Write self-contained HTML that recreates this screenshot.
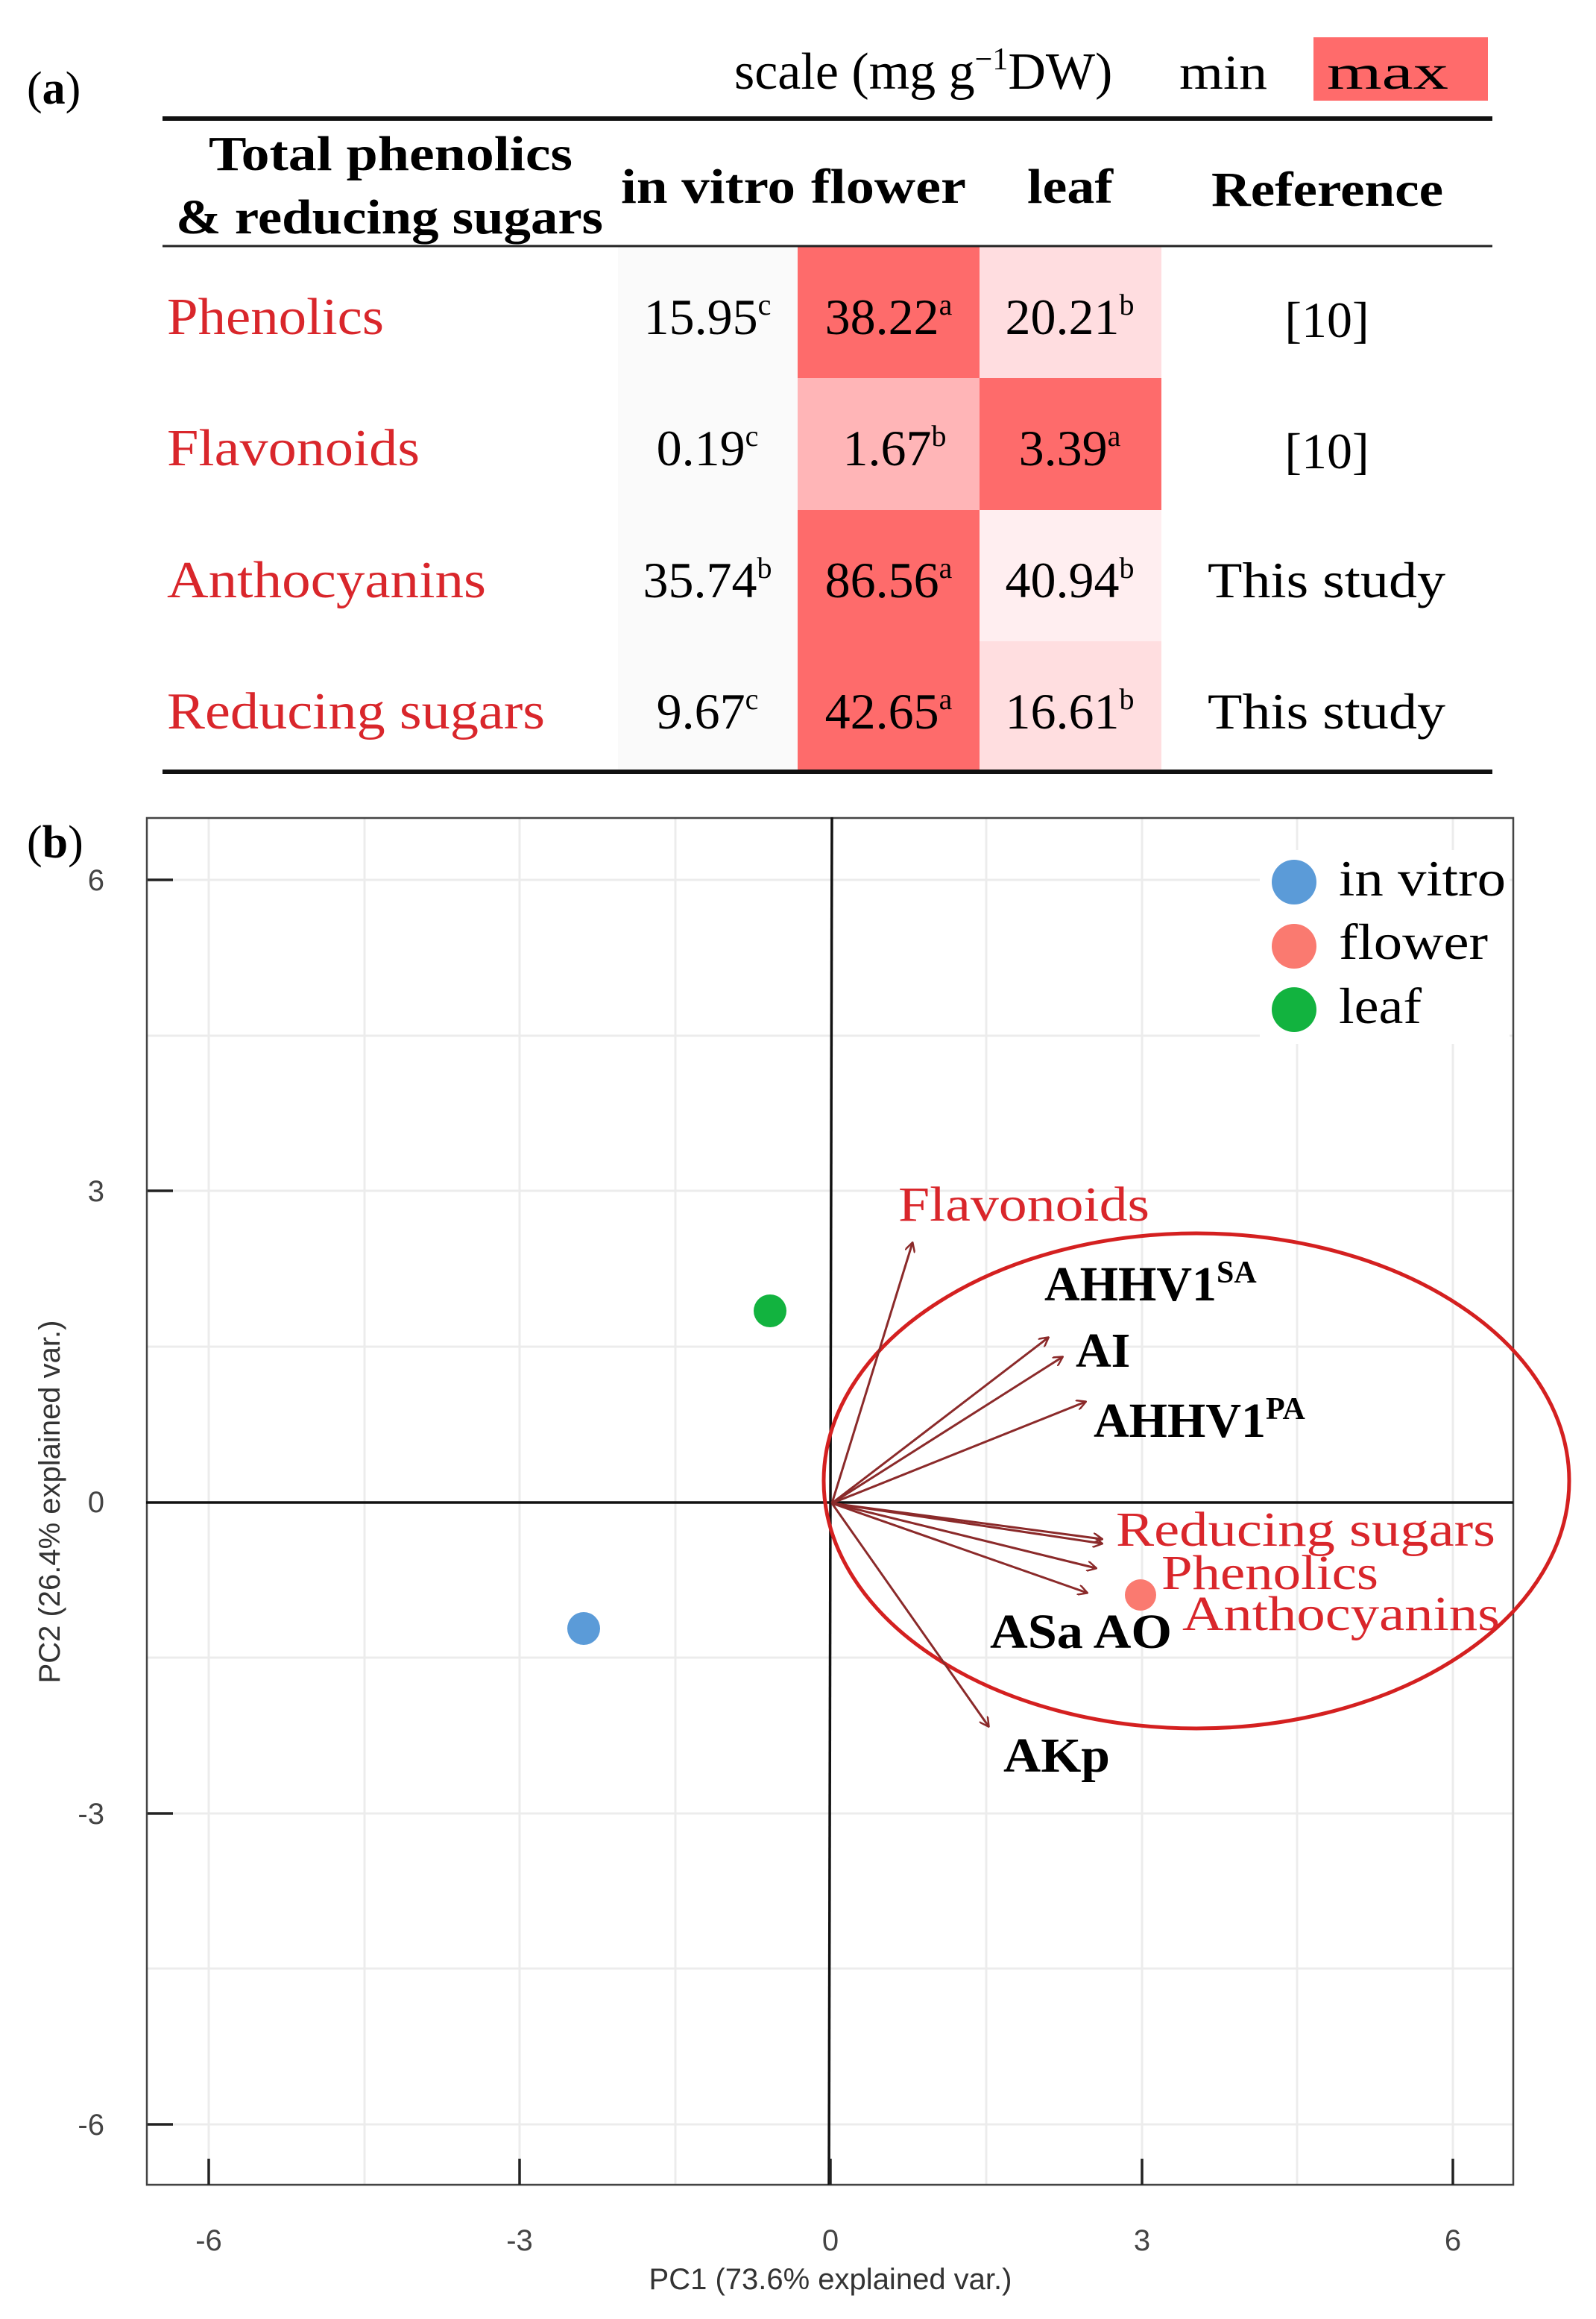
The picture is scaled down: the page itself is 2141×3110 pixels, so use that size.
<!DOCTYPE html>
<html><head><meta charset="utf-8"><style>html,body{margin:0;padding:0;background:#fff}svg{display:block}</style></head>
<body>
<svg width="2141" height="3110" viewBox="0 0 2141 3110" xmlns="http://www.w3.org/2000/svg" font-family="'Liberation Serif', serif">
<!-- (a) table -->
<text x="36" y="139" font-size="62">(<tspan font-weight="bold">a</tspan>)</text>
<text x="985" y="119" font-size="70">scale (mg g<tspan font-size="42" dy="-26">−1</tspan><tspan dy="26">DW)</tspan></text>
<text x="1582" y="119" font-size="66" textLength="118" lengthAdjust="spacingAndGlyphs">min</text>
<rect x="1762" y="50" width="234" height="85" fill="#ff6b6b"/>
<text x="1780" y="119" font-size="66" textLength="163" lengthAdjust="spacingAndGlyphs">max</text>
<!-- cells -->
<rect x="829" y="331" width="241" height="702" fill="#fafafa"/>
<rect x="1070" y="331" width="244" height="176" fill="#fe6b6b"/>
<rect x="1314" y="331" width="244" height="176" fill="#ffdde0"/>
<rect x="1070" y="507" width="244" height="177" fill="#ffb5b7"/>
<rect x="1314" y="507" width="244" height="177" fill="#fe6b6b"/>
<rect x="1070" y="684" width="244" height="176" fill="#fe6b6b"/>
<rect x="1314" y="684" width="244" height="176" fill="#ffeef0"/>
<rect x="1070" y="860" width="244" height="175" fill="#fe6b6b"/>
<rect x="1314" y="860" width="244" height="175" fill="#ffdee0"/>
<line x1="218" y1="159" x2="2002" y2="159" stroke="#111" stroke-width="6"/>
<line x1="218" y1="330" x2="2002" y2="330" stroke="#222" stroke-width="3"/>
<line x1="218" y1="1035" x2="2002" y2="1035" stroke="#111" stroke-width="6"/>
<g font-weight="bold" font-size="66" lengthAdjust="spacingAndGlyphs">
<text x="280" y="228" textLength="488" lengthAdjust="spacingAndGlyphs">Total phenolics</text>
<text x="236" y="313" textLength="573" lengthAdjust="spacingAndGlyphs">&amp; reducing sugars</text>
<text x="833" y="272" textLength="234" lengthAdjust="spacingAndGlyphs">in vitro</text>
<text x="1088" y="272" textLength="208" lengthAdjust="spacingAndGlyphs">flower</text>
<text x="1378" y="272" textLength="115" lengthAdjust="spacingAndGlyphs">leaf</text>
<text x="1625" y="276" textLength="311" lengthAdjust="spacingAndGlyphs">Reference</text>
</g>
<g font-size="70" fill="#d9262b">
<text x="224" y="448" textLength="291" lengthAdjust="spacingAndGlyphs">Phenolics</text>
<text x="224" y="624" textLength="339" lengthAdjust="spacingAndGlyphs">Flavonoids</text>
<text x="224" y="801" textLength="428" lengthAdjust="spacingAndGlyphs">Anthocyanins</text>
<text x="224" y="977" textLength="507" lengthAdjust="spacingAndGlyphs">Reducing sugars</text>
</g>
<g font-size="68" text-anchor="middle">
<text x="949" y="448">15.95<tspan font-size="40" dy="-26">c</tspan></text>
<text x="1192" y="448">38.22<tspan font-size="40" dy="-26">a</tspan></text>
<text x="1435" y="448">20.21<tspan font-size="40" dy="-26">b</tspan></text>
<text x="1780" y="452">[10]</text>
<text x="949" y="624">0.19<tspan font-size="40" dy="-26">c</tspan></text>
<text x="1200" y="624">1.67<tspan font-size="40" dy="-26">b</tspan></text>
<text x="1435" y="624">3.39<tspan font-size="40" dy="-26">a</tspan></text>
<text x="1780" y="628">[10]</text>
<text x="949" y="801">35.74<tspan font-size="40" dy="-26">b</tspan></text>
<text x="1192" y="801">86.56<tspan font-size="40" dy="-26">a</tspan></text>
<text x="1435" y="801">40.94<tspan font-size="40" dy="-26">b</tspan></text>
<text x="1780" y="977" text-anchor="start" dx="0"></text>
</g>
<g font-size="68">
<text x="1620" y="801" textLength="319" lengthAdjust="spacingAndGlyphs">This study</text>
<text x="1620" y="977" textLength="319" lengthAdjust="spacingAndGlyphs">This study</text>
</g>
<g font-size="68" text-anchor="middle">
<text x="949" y="977">9.67<tspan font-size="40" dy="-26">c</tspan></text>
<text x="1192" y="977">42.65<tspan font-size="40" dy="-26">a</tspan></text>
<text x="1435" y="977">16.61<tspan font-size="40" dy="-26">b</tspan></text>
</g>
<!-- (b) plot -->
<text x="36" y="1150" font-size="62">(<tspan font-weight="bold">b</tspan>)</text>
<g stroke="#ececec" stroke-width="3">
<line x1="280" y1="1096" x2="280" y2="2930"/><line x1="489" y1="1096" x2="489" y2="2930"/>
<line x1="697" y1="1096" x2="697" y2="2930"/><line x1="906" y1="1096" x2="906" y2="2930"/>
<line x1="1323" y1="1096" x2="1323" y2="2930"/><line x1="1532" y1="1096" x2="1532" y2="2930"/>
<line x1="1740" y1="1096" x2="1740" y2="2930"/><line x1="1949" y1="1096" x2="1949" y2="2930"/>
<line x1="196" y1="1180" x2="2030" y2="1180"/><line x1="196" y1="1389" x2="2030" y2="1389"/>
<line x1="196" y1="1597" x2="2030" y2="1597"/><line x1="196" y1="1806" x2="2030" y2="1806"/>
<line x1="196" y1="2223" x2="2030" y2="2223"/><line x1="196" y1="2432" x2="2030" y2="2432"/>
<line x1="196" y1="2640" x2="2030" y2="2640"/><line x1="196" y1="2849" x2="2030" y2="2849"/>
</g>
<rect x="197" y="1097" width="1833" height="1833" fill="none" stroke="#444" stroke-width="2.5"/>
<line x1="1116" y1="1096" x2="1112" y2="2930" stroke="#111" stroke-width="3.5"/>
<line x1="196" y1="2015" x2="2030" y2="2015" stroke="#111" stroke-width="3.5"/>
<g stroke="#222" stroke-width="3.5">
<line x1="198" y1="1180" x2="232" y2="1180"/><line x1="198" y1="1597" x2="232" y2="1597"/>
<line x1="198" y1="2432" x2="232" y2="2432"/><line x1="198" y1="2849" x2="232" y2="2849"/>
<line x1="280" y1="2895" x2="280" y2="2930"/><line x1="697" y1="2895" x2="697" y2="2930"/>
<line x1="1114" y1="2895" x2="1114" y2="2930"/><line x1="1532" y1="2895" x2="1532" y2="2930"/>
<line x1="1949" y1="2895" x2="1949" y2="2930"/>
</g>
<g font-family="'Liberation Sans', sans-serif" font-size="40" fill="#444">
<text x="140" y="1194" text-anchor="end">6</text>
<text x="140" y="1611" text-anchor="end">3</text>
<text x="140" y="2028" text-anchor="end">0</text>
<text x="140" y="2446" text-anchor="end">-3</text>
<text x="140" y="2863" text-anchor="end">-6</text>
<text x="280" y="3018" text-anchor="middle">-6</text>
<text x="697" y="3018" text-anchor="middle">-3</text>
<text x="1114" y="3018" text-anchor="middle">0</text>
<text x="1532" y="3018" text-anchor="middle">3</text>
<text x="1949" y="3018" text-anchor="middle">6</text>
<text x="1114" y="3070" text-anchor="middle" fill="#333">PC1 (73.6% explained var.)</text>
<text transform="translate(80,2014) rotate(-90)" text-anchor="middle" fill="#333">PC2 (26.4% explained var.)</text>
</g>
<!-- legend -->
<rect x="1690" y="1140" width="335" height="260" fill="#fff"/>
<circle cx="1736" cy="1183" r="30" fill="#5b9bd8"/>
<circle cx="1736" cy="1269" r="30" fill="#fa7a70"/>
<circle cx="1736" cy="1354" r="30" fill="#12b33f"/>
<g font-size="68"><text x="1796" y="1201" textLength="224" lengthAdjust="spacingAndGlyphs">in vitro</text><text x="1796" y="1286" textLength="200" lengthAdjust="spacingAndGlyphs">flower</text><text x="1796" y="1372" textLength="111" lengthAdjust="spacingAndGlyphs">leaf</text></g>
<!-- points -->
<circle cx="783" cy="2184" r="22" fill="#5b9bd8"/>
<circle cx="1033" cy="1758" r="22" fill="#12b33f"/>
<circle cx="1530" cy="2139" r="21" fill="#fa7a70"/>
<!-- ellipse -->
<ellipse cx="1605" cy="1986" rx="500" ry="332" fill="none" stroke="#d42020" stroke-width="5"/>
<!-- arrows -->
<defs><marker id="ah" markerWidth="14" markerHeight="14" refX="12" refY="7" orient="auto" markerUnits="userSpaceOnUse" viewBox="0 0 14 14"><path d="M0,0 L13,7 L0,14" fill="none" stroke="#8b2a2a" stroke-width="2.5"/></marker></defs>
<g stroke="#8b2a2a" stroke-width="3" marker-end="url(#ah)" fill="none">
<line x1="1116" y1="2016" x2="1224" y2="1667"/>
<line x1="1116" y1="2016" x2="1406" y2="1794"/>
<line x1="1116" y1="2016" x2="1425" y2="1820"/>
<line x1="1116" y1="2016" x2="1456" y2="1880"/>
<line x1="1116" y1="2016" x2="1478" y2="2064"/>
<line x1="1116" y1="2016" x2="1478" y2="2070"/>
<line x1="1116" y1="2016" x2="1470" y2="2103"/>
<line x1="1116" y1="2016" x2="1458" y2="2136"/>
<line x1="1116" y1="2016" x2="1326" y2="2315"/>
</g>
<g font-size="66" fill="#d9262b">
<text x="1205" y="1637" textLength="337" lengthAdjust="spacingAndGlyphs">Flavonoids</text>
<text x="1497" y="2073" textLength="509" lengthAdjust="spacingAndGlyphs">Reducing sugars</text>
<text x="1558" y="2131" textLength="291" lengthAdjust="spacingAndGlyphs">Phenolics</text>
<text x="1586" y="2186" textLength="426" lengthAdjust="spacingAndGlyphs">Anthocyanins</text>
</g>
<g font-size="66" font-weight="bold">
<text x="1401" y="1744">AHHV1<tspan font-size="42" dy="-24">SA</tspan></text>
<text x="1443" y="1833">AI</text>
<text x="1467" y="1927">AHHV1<tspan font-size="42" dy="-24">PA</tspan></text>
<text x="1328" y="2210" textLength="244" lengthAdjust="spacingAndGlyphs">ASa AO</text>
<text x="1346" y="2376" textLength="143" lengthAdjust="spacingAndGlyphs">AKp</text>
</g>
</svg>
</body></html>
